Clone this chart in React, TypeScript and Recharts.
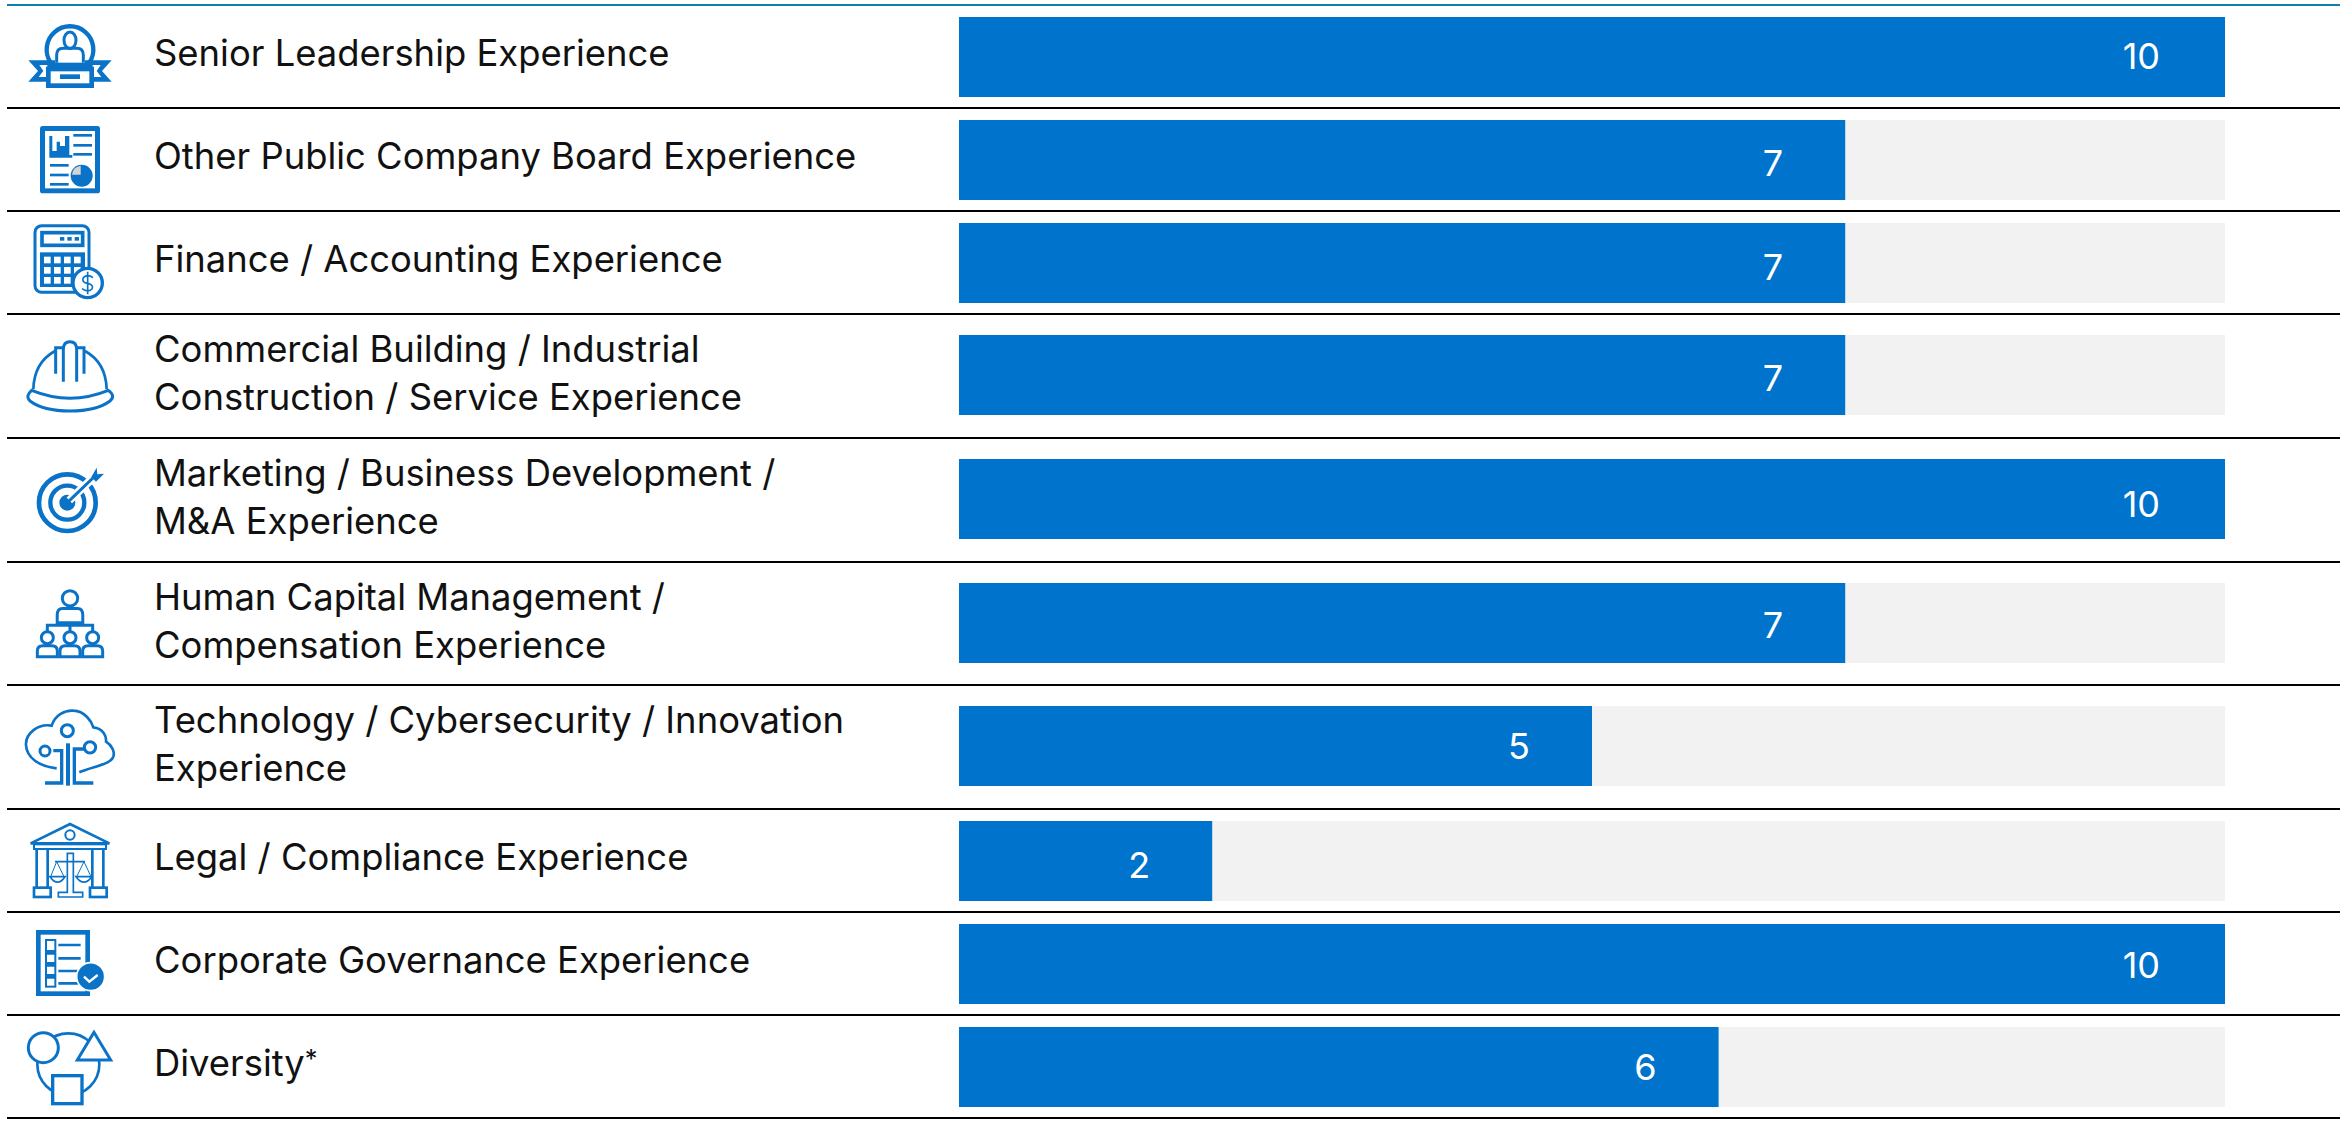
import React from "react";
import { BarChart, Bar, XAxis, YAxis, LabelList } from "recharts";

const BLUE = "#0073cc";
const ICON_BLUE = "#0a73c8";
const FONT = "Inter, sans-serif";

const skills = [
  ["Senior Leadership Experience"],
  ["Other Public Company Board Experience"],
  ["Finance / Accounting Experience"],
  ["Commercial Building / Industrial", "Construction / Service Experience"],
  ["Marketing / Business Development /", "M&A Experience"],
  ["Human Capital Management /", "Compensation Experience"],
  ["Technology / Cybersecurity / Innovation", "Experience"],
  ["Legal / Compliance Experience"],
  ["Corporate Governance Experience"],
  ["Diversity*"],
];
const directors = [10, 7, 7, 7, 10, 7, 5, 2, 10, 6];
const maxDirectors = 10;
// the numbers do not sit quite centred in the reference bars
const labelNudge = [-1, 3, 4, 3, 5, 2, 0, 4, 1, 0];

const line = { fill: "none", stroke: ICON_BLUE, strokeWidth: 9 };
const solid = { fill: ICON_BLUE };

function LeaderIcon() {
  return (
    <g>
      <path d="M122 155A70 70 0 1 1 238 155" {...line} strokeWidth={13} />
      <ellipse cx={180} cy={88} rx={18} ry={25} {...line} />
      <path d="M140 155V132Q140 112 160 112H200Q220 112 220 132V155" {...line} />
      <path d="M55 148H135V168H112V212H55L84 180Z" {...solid} />
      <path d="M305 148H225V168H248V212H305L276 180Z" {...solid} />
      <path d="M88 162H112V198H86L100 180Z" fill="#fff" />
      <path d="M272 162H248V198H274L260 180Z" fill="#fff" />
      <rect x={115} y={174} width={130} height={50} fill="#fff" stroke={ICON_BLUE} strokeWidth={14} />
      <rect x={135} y={155} width={90} height={14} {...solid} />
      <rect x={150} y={190} width={60} height={14} {...solid} />
    </g>
  );
}

function BoardIcon() {
  return (
    <g>
      <rect x={90} y={345} width={180} height={202} rx={8} {...solid} />
      <rect x={105} y={360} width={150} height={172} fill="#fff" />
      <path d="M118 375V440H187V432H178V375H165V405H150V392H140V420H127V375Z" {...solid} />
      {[373, 403, 430].map((y) => (
        <rect key={y} x={190} y={y - 4} width={56} height={8} {...solid} />
      ))}
      {[463, 492, 520].map((y) => (
        <rect key={y} x={120} y={y - 4} width={56} height={8} {...solid} />
      ))}
      <circle cx={215} cy={494} r={33} {...solid} />
      <path d="M212 491V464A29 29 0 0 0 186 491Z" fill="#d4d4d4" />
    </g>
  );
}

function CalculatorIcon() {
  return (
    <g>
      <rect x={75} y={644} width={162} height={200} rx={20} {...line} />
      <rect x={96} y={665} width={122} height={38} {...line} strokeWidth={11} />
      {[150, 172, 194].map((x) => (
        <rect key={x} x={x} y={678} width={13} height={11} {...solid} />
      ))}
      <rect x={90} y={724} width={135} height={104} {...solid} />
      {[102, 132, 162, 192].flatMap((x) =>
        [737, 768, 798].map((y) => <rect key={x + "-" + y} x={x} y={y} width={20} height={20} fill="#fff" />)
      )}
      <circle cx={233} cy={816} r={44} fill="#fff" stroke={ICON_BLUE} strokeWidth={10} />
      <path d="M249 800Q233 788 220 800Q214 814 233 817Q252 822 246 834Q233 846 216 833M233 782V850" {...line} strokeWidth={5} />
    </g>
  );
}

function HelmetIcon() {
  return (
    <g>
      <path d="M70 205Q72 125 135 90M225 90Q288 125 290 205" {...line} strokeWidth={8} />
      <path d="M160 182V85Q160 62 180 62Q200 62 200 85V182" {...line} />
      <path d="M137 158V80H160M222 158V80H200" {...line} />
      <path d="M65 208Q45 225 60 240Q100 270 180 270Q260 270 300 240Q318 225 295 208Q180 255 65 208Z" {...line} />
    </g>
  );
}

function TargetIcon() {
  return (
    <g>
      <circle cx={172} cy={545} r={85} {...line} strokeWidth={14} />
      <circle cx={172} cy={545} r={51} {...line} strokeWidth={13} />
      <circle cx={172} cy={545} r={24} {...solid} />
      <path d="M178 538L255 465" fill="none" stroke="#fff" strokeWidth={24} />
      <path d="M172 545L255 465" {...line} />
      <path d="M244 468L260 440L262 460L282 458L258 482Z" {...solid} />
    </g>
  );
}

function Person({ x, y, scale }: { x: number; y: number; scale: number }) {
  const r = 18 * scale;
  const w = 30 * scale;
  return (
    <g>
      <circle cx={x} cy={y} r={r} {...line} />
      <path
        d={`M${x - w} ${y + 57 * scale}V${y + 40 * scale}Q${x - w} ${y + 24 * scale} ${x - w + 16} ${y + 24 * scale}H${x + w - 16}Q${x + w} ${y + 24 * scale} ${x + w} ${y + 40 * scale}V${y + 57 * scale}Z`}
        {...line}
      />
    </g>
  );
}

function PeopleIcon() {
  return (
    <g>
      <Person x={180} y={97} scale={1.28} />
      <path d="M112 195V178H248V195M180 170V195" {...line} />
      <Person x={112} y={215} scale={1} />
      <Person x={180} y={215} scale={1} />
      <Person x={248} y={215} scale={1} />
    </g>
  );
}

function TreeIcon() {
  return (
    <g>
      <path
        d="M140 610C90 605 50 580 48 540C46 505 85 475 125 482C135 450 165 435 190 437C225 438 245 470 250 487C280 490 290 515 288 530C305 540 315 560 310 575C300 600 245 605 208 622"
        {...line}
        strokeWidth={8}
      />
      <circle cx={172} cy={497} r={18} {...line} />
      <circle cx={105} cy={558} r={15} {...line} />
      <circle cx={240} cy={547} r={17} {...line} />
      <rect x={168} y={535} width={12} height={127} {...solid} />
      <path d="M130 557H155V654H105M222 552H193V654H250" {...line} strokeWidth={10} />
    </g>
  );
}

function CourtIcon() {
  return (
    <g>
      <path d="M62 85L180 27L298 85Z" {...line} strokeWidth={8} />
      <circle cx={180} cy={60} r={14} {...line} strokeWidth={6} />
      <rect x={72} y={88} width={216} height={14} {...line} strokeWidth={6} />
      <path d="M80 102V218M113 102V218M247 102V218M280 102V218" {...line} strokeWidth={8} />
      <rect x={72} y={218} width={50} height={28} {...line} strokeWidth={8} />
      <rect x={240} y={218} width={50} height={28} {...line} strokeWidth={8} />
      <path d="M145 246H218V232H190V115H172V232H145ZM135 140H225" {...line} strokeWidth={5} />
      <path d="M120 185Q143 218 165 185ZM198 185Q222 218 245 185Z" {...line} strokeWidth={5} />
      <path d="M140 140L122 185M140 140L162 185M222 140L200 185M222 140L243 185" {...line} strokeWidth={3} />
    </g>
  );
}

function ChecklistIcon() {
  return (
    <g>
      <rect x={85} y={352} width={148} height={184} {...line} strokeWidth={14} />
      <rect x={108} y={375} width={28} height={140} {...line} strokeWidth={6} />
      <path d="M108 412H136M108 448H136M108 484H136" {...line} strokeWidth={14} />
      <path d="M145 390H212M145 430H212M145 468H205M145 505H205" {...line} strokeWidth={8} />
      <circle cx={242} cy={485} r={42} {...solid} stroke="#fff" strokeWidth={5} />
      <path d="M222 485L238 500L263 480" fill="none" stroke="#fff" strokeWidth={7} />
    </g>
  );
}

function ShapesIcon() {
  return (
    <g>
      <circle cx={175} cy={748} r={93} {...line} strokeWidth={8} />
      <circle cx={100} cy={698} r={45} {...line} fill="#fff" />
      <path d="M252 652L202 735H302Z" {...line} fill="#fff" />
      <rect x={128} y={782} width={88} height={84} {...line} fill="#fff" strokeWidth={10} />
    </g>
  );
}

// each icon with the y where its row starts inside its own drawing
const rowIcons = [
  { Icon: LeaderIcon, y0: -15 },
  { Icon: BoardIcon, y0: 294 },
  { Icon: CalculatorIcon, y0: 603 },
  { Icon: HelmetIcon, y0: -18 },
  { Icon: TargetIcon, y0: 354 },
  { Icon: PeopleIcon, y0: -9 },
  { Icon: TreeIcon, y0: 363 },
  { Icon: CourtIcon, y0: -15 },
  { Icon: ChecklistIcon, y0: 294 },
  { Icon: ShapesIcon, y0: 603 },
];

function SkillText({ text }: { text: string }) {
  if (!text.endsWith("*")) return <div>{text}</div>;
  return (
    <div>
      {text.slice(0, -1)}
      <span style={{ fontSize: "0.7em", position: "relative", top: "-0.3em" }}>*</span>
    </div>
  );
}

function SkillRow({ index }: { index: number }) {
  const lines = skills[index];
  const tall = lines.length > 1;
  const height = tall ? 123.75 : 103;
  const { Icon, y0 } = rowIcons[index];
  const data = [{ name: lines.join(" "), value: directors[index] }];

  return (
    <div style={{ position: "relative", height, boxSizing: "border-box", borderBottom: "2px solid #000" }}>
      <svg
        width={120}
        height={height}
        viewBox={`0 ${y0} 360 ${height * 3}`}
        style={{ position: "absolute", left: 3, top: 0 }}
      >
        <Icon />
      </svg>
      <div
        style={{
          position: "absolute",
          left: 147,
          top: tall ? 10 : 23,
          fontFamily: FONT,
          fontSize: 36.4,
          lineHeight: "48px",
          color: "#111",
          whiteSpace: "nowrap",
        }}
      >
        {lines.map((t) => (
          <SkillText key={t} text={t} />
        ))}
      </div>
      <div style={{ position: "absolute", left: 952, top: tall ? 20 : 11 }}>
        <BarChart
          width={1266}
          height={80}
          data={data}
          layout="vertical"
          barCategoryGap={0}
          margin={{ top: 0, right: 0, bottom: 0, left: 0 }}
        >
          <XAxis type="number" domain={[0, maxDirectors]} hide />
          <YAxis type="category" dataKey="name" hide />
          <Bar dataKey="value" fill={BLUE} background={{ fill: "#f2f2f2" }} isAnimationActive={false}>
            <LabelList
              dataKey="value"
              position="insideRight"
              offset={directors[index] >= 10 ? 65 : 62}
              fill="#fff"
              fontSize={36}
              fontFamily={FONT}
              dy={labelNudge[index]}
            />
          </Bar>
        </BarChart>
      </div>
    </div>
  );
}

export default function App() {
  return (
    <div style={{ position: "absolute", left: 7, top: 4, width: 2333, background: "#fff" }}>
      <div style={{ height: 2, background: "#0f7fae" }} />
      {skills.map((_, i) => (
        <SkillRow key={i} index={i} />
      ))}
    </div>
  );
}
